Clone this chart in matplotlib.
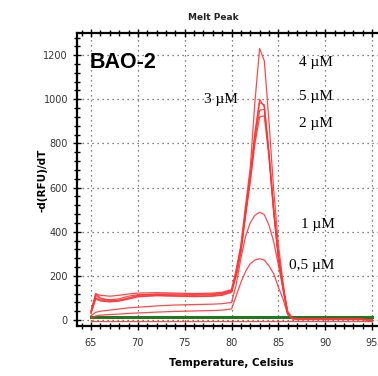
import numpy as np
import matplotlib.pyplot as plt
from matplotlib.ticker import MultipleLocator

# temperature grid (Celsius)
temps = [65, 65.5, 66, 67, 68, 69, 70, 72, 74, 76, 78, 79, 80, 80.5, 81, 81.5,
         82, 82.5, 83, 83.5, 84, 84.5, 85, 85.5, 86, 86.5, 87, 88, 90, 92, 94, 95]

# -d(RFU)/dT for each run
run_4uM = [40, 118, 112, 108, 112, 118, 122, 124, 122, 120, 122, 126, 138, 230, 340, 520,
           690, 990, 1230, 1175, 900, 590, 340, 170, 30, 8, 6, 5, 5, 4, 3, 0]
run_5uM = [35, 112, 95, 92, 96, 108, 115, 116, 114, 112, 115, 120, 132, 215, 330, 500,
           660, 850, 1000, 965, 750, 500, 290, 150, 30, 8, 6, 5, 5, 4, 3, 0]
run_3uM = [38, 120, 100, 88, 90, 100, 112, 118, 118, 116, 118, 122, 134, 210, 320, 490,
           650, 840, 985, 975, 760, 505, 295, 150, 28, 7, 6, 5, 5, 4, 3, 0]
run_2uM = [32, 100, 90, 85, 88, 98, 108, 112, 110, 108, 110, 115, 128, 205, 315, 480,
           640, 820, 950, 955, 750, 495, 285, 145, 27, 7, 6, 5, 5, 4, 3, 0]
run_2uMb = [30, 95, 86, 82, 86, 95, 105, 110, 108, 106, 108, 112, 125, 200, 305, 470,
            625, 800, 920, 925, 735, 485, 280, 140, 26, 7, 6, 5, 5, 4, 3, 0]
run_1uM = [20, 35, 40, 45, 50, 55, 58, 64, 68, 70, 72, 74, 80, 160, 280, 380,
           440, 475, 488, 478, 430, 355, 250, 140, 40, 8, 6, 5, 5, 4, 3, 0]
run_05uM = [10, 18, 22, 25, 27, 30, 32, 36, 39, 41, 43, 45, 50, 110, 170, 220,
            255, 272, 278, 272, 245, 210, 150, 95, 25, 5, 5, 4, 4, 3, 2, 0]
neg_ctrl = [-5] * len(temps)
green_ctrl = [15] * len(temps)

red_runs = [run_4uM, run_5uM, run_3uM, run_2uM, run_2uMb, run_1uM, run_05uM, neg_ctrl]

conc_labels = ['4 µM', '5 µM', '2 µM', '3 µM', '1 µM', '0,5 µM']
label_x = [89.0, 89.0, 89.0, 78.9, 89.2, 88.6]
label_y = [1168, 1014, 892, 1001, 435, 249]

fig = plt.figure(figsize=(3.78, 3.76), dpi=100)
ax = fig.add_axes([0.2037, 0.133, 0.7963, 0.779])

ax.plot(temps, green_ctrl, color='#1e7a1e', lw=2.2, zorder=2)
for run in red_runs:
    ax.plot(temps, run, color='#ff3535', lw=0.9, alpha=0.9, zorder=3)

ax.set_xlim(63.5, 95.64)
ax.set_ylim(-27, 1300)
ax.xaxis.set_major_locator(MultipleLocator(5))
ax.xaxis.set_minor_locator(MultipleLocator(1))
ax.yaxis.set_major_locator(MultipleLocator(200))
ax.yaxis.set_minor_locator(MultipleLocator(40))
ax.grid(True, which='major', linestyle=(0, (1, 3)), color='#555555', linewidth=0.9)
ax.tick_params(which='both', direction='inout', colors='black', labelcolor='#333333',
               labelsize=7, width=1.0, top=True)
ax.tick_params(which='major', length=6)
ax.tick_params(which='minor', length=4)
ax.tick_params(axis='x', pad=6)
for s in ['left', 'bottom', 'top']:
    ax.spines[s].set_linewidth(1.6)
ax.spines['right'].set_visible(False)

for lab, x, y in zip(conc_labels, label_x, label_y):
    ax.text(x, y, lab, family='Liberation Serif', fontsize=11, ha='center', va='center')

ax.text(64.8, 1168, 'BAO-2', family='Liberation Sans', fontweight='bold', fontsize=15.5,
        ha='left', va='center')

fig.text(213 / 378, 1 - 18 / 376, 'Melt Peak', ha='center', va='center',
         fontsize=6.5, fontweight='bold', color='#222222')
fig.text(231 / 378, 1 - 363 / 376, 'Temperature, Celsius', ha='center', va='center',
         fontsize=7.5, fontweight='bold')
fig.text(42 / 378, 1 - 180 / 376, '-d(RFU)/dT', ha='center', va='center',
         fontsize=7.5, fontweight='bold', rotation=90)

fig.savefig('out.png', dpi=100)
